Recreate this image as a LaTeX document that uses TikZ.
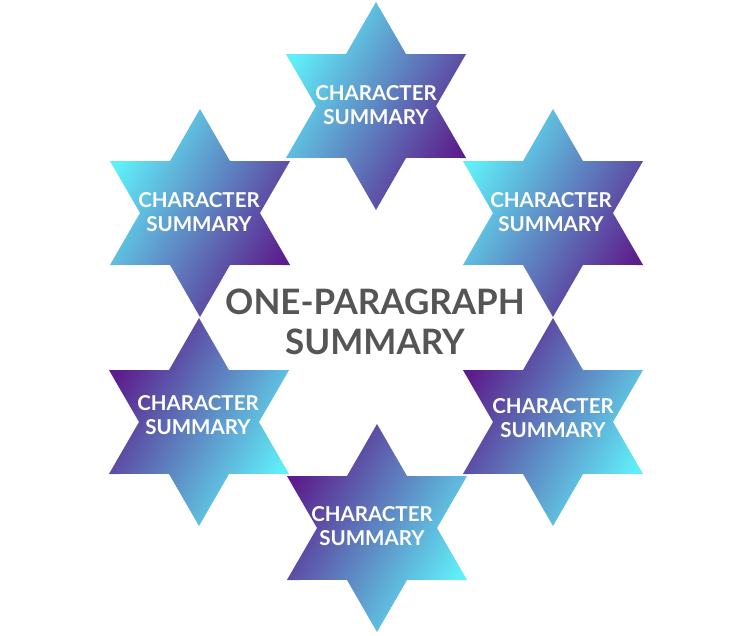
\documentclass[tikz,border=0pt]{standalone}
\usepackage{fontspec}
\setmainfont{Lato}
\definecolor{cy}{RGB}{96,238,248}
\definecolor{pu}{RGB}{92,30,140}
\definecolor{txt}{RGB}{85,85,85}
\newcommand\hexstar[3]{%
  \shade[#3] (#1,#2) +(90:104) -- +(60:60) -- +(30:104) -- +(0:60) -- +(-30:104) -- +(-60:60)
    -- +(-90:104) -- +(-120:60) -- +(-150:104) -- +(180:60) -- +(150:104) -- +(120:60) -- cycle;}
\begin{document}
\begin{tikzpicture}[x=1pt,y=-1pt,
  upstar/.style={top color=cy,bottom color=pu,shading angle=60},
  downstar/.style={top color=pu,bottom color=cy,shading angle=60},
  lbl/.style={text=white,font=\bfseries\fontsize{20.5}{24}\selectfont,align=center,inner sep=0pt},
  mainlbl/.style={text=txt,font=\bfseries\fontsize{35}{40}\selectfont,align=center,inner sep=0pt}]
\useasboundingbox (0,0) rectangle (750,635);
\fill[white] (0,0) rectangle (750,635);
\hexstar{376}{106}{upstar}
\hexstar{200}{213}{upstar}
\hexstar{553}{213}{upstar}
\hexstar{199}{422}{downstar}
\hexstar{553}{422}{downstar}
\hexstar{377}{528}{downstar}
\node[lbl] (s1) at (376,105) {CHARACTER\\SUMMARY};
\node[lbl] (s2) at (199,212) {CHARACTER\\SUMMARY};
\node[lbl] (s3) at (551,212) {CHARACTER\\SUMMARY};
\node[lbl] (s4) at (198,415) {CHARACTER\\SUMMARY};
\node[lbl] (s5) at (553,418) {CHARACTER\\SUMMARY};
\node[lbl] (s6) at (372,526) {CHARACTER\\SUMMARY};
\node[mainlbl] (main) at (375,322) {ONE-PARAGRAPH\\SUMMARY};
\end{tikzpicture}
\end{document}
